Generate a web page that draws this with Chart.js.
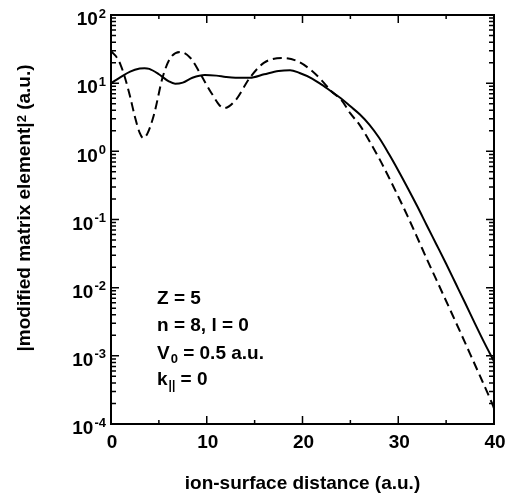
<!DOCTYPE html>
<html>
<head>
<meta charset="utf-8">
<script src="https://cdn.jsdelivr.net/npm/chart.js@4"></script>
<style>
  html, body { margin: 0; padding: 0; background: #fff; }
  canvas { display: block; }
</style>
</head>
<body>
<canvas id="canvas" width="508" height="498"></canvas>
<script>
// solid curve
var solidX = [0,1,2,3,3.5,4,5,6,6.7,7.5,8.5,9.8,11,12,13,14.5,16,17.5,18.7,19.7,21,22,23.1,24,25,26,27,28,29,30,31,32,33,34,35,36,37,38,39,40];
var solidY = [10.0,12.3,14.8,16.4,16.6,16.2,13.5,10.7,9.8,10.2,12.0,13.2,12.9,12.3,12.0,12.0,13.5,15.1,15.5,14.1,11.7,9.5,7.4,6.0,4.57,3.47,2.45,1.58,0.93,0.525,0.288,0.155,0.081,0.0427,0.0224,0.0115,0.0059,0.0030,0.00155,0.00083];

// dashed curve
var dashedX = [0,0.5,1,1.46,2,2.5,3,3.35,3.8,4.5,5.4,6.2,7.3,8.3,9.4,10.5,11.8,13,14.5,16,17.9,19.5,21,22,23.1,24,25,26,26.7,28,29,30.2,31,32.1,33,34,35.4,36.5,37.5,38.5,39.8,40];
var dashedY = [29.5,25,18.6,12,6.3,3.2,1.86,1.57,1.82,3.5,12.3,23.4,28.6,23.4,13.2,7.1,4.3,5.6,12.0,20,23.4,20.9,15.1,11,7.4,5.8,3.6,2.4,1.66,0.79,0.42,0.19,0.110,0.050,0.026,0.0129,0.0048,0.0022,0.00107,0.00052,0.00020,0.00017];

// axes
var xMajor = [0,10,20,30,40];
var xMinor = [5,15,25,35];
var yExps = [2,1,0,-1,-2,-3,-4];

var annot = ['Z = 5', 'n = 8, l = 0'];

function pts(xa, ya) {
  var out = [];
  for (let i = 0; i < xa.length; i++) out.push({x: xa[i], y: ya[i]});
  return out;
}

var FONT = '"Liberation Sans", Arial, sans-serif';

var framePlugin = {
  id: 'frame',
  afterDraw: function(chart) {
    var c = chart.ctx, a = chart.chartArea;
    var xs = chart.scales.x, ys = chart.scales.y;
    c.save();
    c.strokeStyle = '#000';
    c.fillStyle = '#000';
    c.lineWidth = 2;
    c.strokeRect(a.left, a.top, a.right - a.left, a.bottom - a.top);

    // x ticks (inward, top and bottom)
    c.lineWidth = 1.5;
    c.beginPath();
    xMajor.concat(xMinor).forEach(function(v) {
      var len = xMajor.indexOf(v) >= 0 ? 8 : 4;
      var px = xs.getPixelForValue(v);
      c.moveTo(px, a.bottom); c.lineTo(px, a.bottom - len);
      c.moveTo(px, a.top); c.lineTo(px, a.top + len);
    });
    // y ticks
    yExps.forEach(function(e) {
      for (let m = 1; m <= 9; m++) {
        var v = m * Math.pow(10, e);
        if (v > 100.0001) continue;
        var py = ys.getPixelForValue(v);
        var len = m == 1 ? 8 : 5;
        c.moveTo(a.left, py); c.lineTo(a.left + len, py);
        c.moveTo(a.right, py); c.lineTo(a.right - len, py);
        if (e == 2) break;
      }
    });
    c.stroke();

    // x tick labels
    c.font = 'bold 19px ' + FONT;
    c.textAlign = 'center';
    c.textBaseline = 'middle';
    xMajor.forEach(function(v) {
      c.fillText(String(v), xs.getPixelForValue(v) + 1, 443);
    });

    // y tick labels 10^e
    yExps.forEach(function(e) {
      var py = ys.getPixelForValue(Math.pow(10, e));
      var ex = e < 0 ? '-' + (-e) : String(e);
      c.font = 'bold 13px ' + FONT;
      c.textAlign = 'right';
      var w = c.measureText(ex).width;
      c.fillText(ex, 106, py - 1);
      c.font = 'bold 19px ' + FONT;
      c.fillText('10', 106 - w - 1, py + 5);
    });

    // axis titles
    c.font = 'bold 19px ' + FONT;
    c.textAlign = 'center';
    c.fillText('ion-surface distance (a.u.)', (a.left + a.right) / 2, 484);

    c.save();
    c.translate(25, 208);
    c.rotate(-Math.PI / 2);
    var t1 = '|modified matrix element|', t2 = ' (a.u.)';
    c.font = 'bold 19px ' + FONT;
    var w1 = c.measureText(t1).width, w3 = c.measureText(t2).width;
    c.font = 'bold 13px ' + FONT;
    var w2 = c.measureText('2').width;
    var x0 = -(w1 + w2 + w3) / 2;
    c.textAlign = 'left';
    c.font = 'bold 19px ' + FONT;
    c.fillText(t1, x0, 0);
    c.font = 'bold 13px ' + FONT;
    c.fillText('2', x0 + w1, -3);
    c.font = 'bold 19px ' + FONT;
    c.fillText(t2, x0 + w1 + w2, 0);
    c.restore();

    // annotation
    c.textAlign = 'left';
    c.font = 'bold 19px ' + FONT;
    var lx = 157;
    c.fillText(annot[0], lx, 299);
    c.fillText(annot[1], lx, 326);
    c.fillText('V', lx, 354);
    var wv = c.measureText('V').width;
    c.font = 'bold 13px ' + FONT;
    c.fillText('0', lx + wv + 1, 359);
    var w0 = c.measureText('0').width;
    c.font = 'bold 19px ' + FONT;
    c.fillText(' = 0.5 a.u.', lx + wv + w0 + 1, 354);
    c.fillText('k', lx, 380);
    var wk = c.measureText('k').width;
    c.font = 'bold 12px ' + FONT;
    c.fillText('||', lx + wk + 1, 386);
    var wp = c.measureText('||').width;
    c.font = 'bold 19px ' + FONT;
    c.fillText(' = 0', lx + wk + wp + 1, 380);
    c.restore();
  }
};

const ctx = document.getElementById('canvas');

new Chart(ctx, {
  type: 'line',
  data: {
    datasets: [{
      data: pts(solidX, solidY),
      borderColor: '#000',
      borderWidth: 2,
      pointRadius: 0,
      cubicInterpolationMode: 'monotone',
      fill: false
    }, {
      data: pts(dashedX, dashedY),
      borderColor: '#000',
      borderWidth: 2,
      borderDash: [9, 5],
      pointRadius: 0,
      cubicInterpolationMode: 'monotone',
      fill: false
    }]
  },
  options: {
    responsive: false,
    animation: false,
    devicePixelRatio: 1,
    layout: { padding: { top: 15, right: 14, left: 0, bottom: 0 } },
    plugins: { legend: { display: false }, tooltip: { enabled: false } },
    scales: {
      x: {
        type: 'linear', min: 0, max: 40,
        ticks: { display: false },
        grid: { display: false },
        border: { display: false },
        afterFit: function(s) { s.height = 74; }
      },
      y: {
        type: 'logarithmic', min: 1e-4, max: 100,
        ticks: { display: false },
        grid: { display: false },
        border: { display: false },
        afterFit: function(s) { s.width = 111; }
      }
    }
  },
  plugins: [framePlugin]
});
</script>
</body>
</html>
